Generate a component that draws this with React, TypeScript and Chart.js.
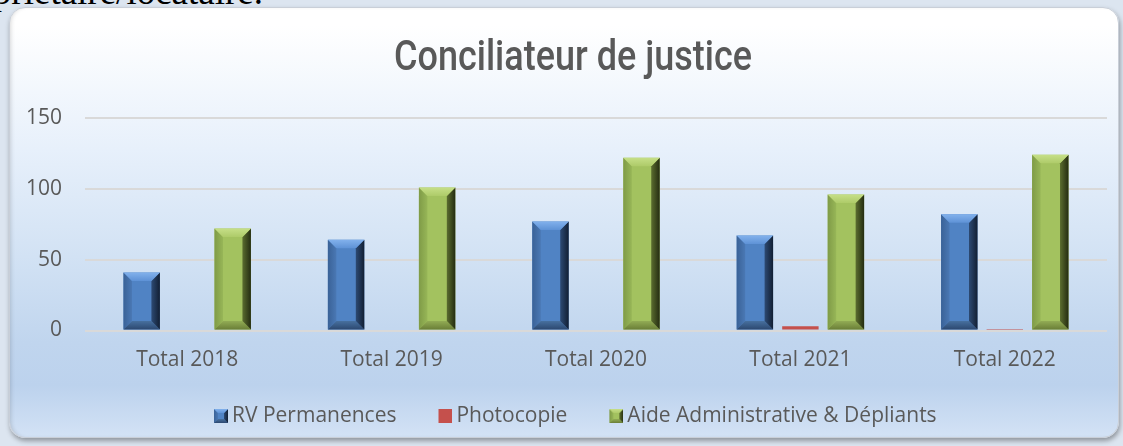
import React, { useEffect, useRef } from 'react';
import { Chart, registerables } from 'chart.js';

Chart.register(...registerables);

// ---- Data ----
const categories = ['Total 2018', 'Total 2019', 'Total 2020', 'Total 2021', 'Total 2022'];
const rvPermanences = [41, 64, 77, 67, 82];
const photocopie = [0, 0, 0, 3, 1];
const aideAdministrative = [72, 101, 122, 96, 124];
const yTicks = [0, 50, 100, 150];
const seriesNames = ['RV Permanences', 'Photocopie', 'Aide Administrative & Dépliants'];
const chartTitle = 'Conciliateur de justice';

// ---- Styles ----
const TEXT = '#595959';
const GRID = '#d9d9d9';
const RED = '#c5504c';
const BLUE = {
  body: '#5083c4',
  top: ['#82b1ec', '#5e92d6'],
  left: ['#3a6297', '#4a78b4'],
  right: ['#2d4a73', '#121f33'],
  bottom: ['#47709f', '#2c4870'],
};
const GREEN = {
  body: '#a3c25f',
  top: ['#c6df88', '#aecb69'],
  left: ['#7f9b47', '#97b657'],
  right: ['#5b6d2f', '#242c11'],
  bottom: ['#92ac55', '#6a7e37'],
};
const BEVELS: any[] = [BLUE, null, GREEN];
const BEVEL_SIZE = 8.5;
const TITLE_CENTER_X = 573;
const TITLE_WIDTH = 358;
const TITLE_FONT = { family: "Roboto, 'Open Sans', sans-serif", size: 42, weight: '500' };
const LEGEND_LEFT = 172;
const ICON = 14;
const ICON_SLOT = 40;

function drawBevel(ctx: CanvasRenderingContext2D, x0: number, x1: number, top: number, bot: number, b: number, st: any) {
  const lin = (ax: number, ay: number, bx: number, by: number, c: string[]) => {
    const g = ctx.createLinearGradient(ax, ay, bx, by);
    g.addColorStop(0, c[0]);
    g.addColorStop(1, c[1]);
    return g;
  };
  const poly = (pts: number[][], fill: any) => {
    ctx.beginPath();
    ctx.moveTo(pts[0][0], pts[0][1]);
    for (let i = 1; i < pts.length; i++) ctx.lineTo(pts[i][0], pts[i][1]);
    ctx.closePath();
    ctx.fillStyle = fill;
    ctx.fill();
  };
  poly([[x0, top], [x0 + b, top + b], [x0 + b, bot - b], [x0, bot]], lin(x0, 0, x0 + b, 0, st.left));
  poly([[x0, bot], [x0 + b, bot - b], [x1 - b, bot - b], [x1, bot]], lin(0, bot - b, 0, bot, st.bottom));
  poly([[x1, top], [x1, bot], [x1 - b, bot - b], [x1 - b, top + b]], lin(x1 - b, 0, x1, 0, st.right));
  poly([[x0, top], [x1, top], [x1 - b, top + b], [x0 + b, top + b]], lin(0, top, 0, top + b, st.top));
}

const bevelPlugin = {
  id: 'bevelBars',
  afterDatasetsDraw(chart: any) {
    const ctx = chart.ctx as CanvasRenderingContext2D;
    chart.data.datasets.forEach((_ds: any, i: number) => {
      const st = BEVELS[i];
      if (!st) return;
      const meta = chart.getDatasetMeta(i);
      meta.data.forEach((bar: any) => {
        const p = bar.getProps(['x', 'y', 'base', 'width'], true);
        const x0 = p.x - p.width / 2;
        const x1 = p.x + p.width / 2;
        const top = Math.min(p.y, p.base);
        const bot = Math.max(p.y, p.base);
        const h = bot - top;
        if (h <= 0) return;
        const b = Math.min(BEVEL_SIZE, p.width / 4, h / 2);
        ctx.save();
        drawBevel(ctx, x0, x1, top, bot, b, st);
        ctx.restore();
      });
    });
  },
};

// Positions the title (narrowed horizontally, like the condensed original) and the legend.
const shiftPlugin = {
  id: 'shiftBlocks',
  afterLayout(chart: any) {
    const t = chart.titleBlock;
    if (t) {
      const half = (t.right - t.left) / 2;
      t.left = TITLE_CENTER_X - half;
      t.right = TITLE_CENTER_X + half;
      if (!t._narrowed) {
        t._narrowed = true;
        const orig = t.draw.bind(t);
        t.draw = function () {
          const ctx = chart.ctx as CanvasRenderingContext2D;
          ctx.save();
          ctx.font = `${TITLE_FONT.weight} ${TITLE_FONT.size}px ${TITLE_FONT.family}`;
          const w = ctx.measureText(chartTitle).width || TITLE_WIDTH;
          const sx = TITLE_WIDTH / w;
          const cx = (t.left + t.right) / 2;
          ctx.translate(cx, 0);
          ctx.scale(sx, 1);
          ctx.translate(-cx, 0);
          orig();
          ctx.restore();
        };
      }
    }
    const l = chart.legend;
    if (l) l.left = LEGEND_LEFT;
  },
};

function makeIcon(body: string, st: any): HTMLCanvasElement {
  const c = document.createElement('canvas');
  c.width = ICON_SLOT + 13;
  c.height = ICON;
  const ctx = c.getContext('2d')!;
  const x0 = ICON_SLOT - 1;
  ctx.fillStyle = body;
  ctx.fillRect(x0, 0, ICON, ICON);
  if (st) drawBevel(ctx, x0, x0 + ICON, 0, ICON, 4, st);
  return c;
}

export default function App() {
  const ref = useRef<HTMLCanvasElement>(null);

  useEffect(() => {
    const canvas = ref.current!;
    const icons = [makeIcon(BLUE.body, BLUE), makeIcon(RED, null), makeIcon(GREEN.body, GREEN)];
    const tickFont = { family: "'Open Sans', sans-serif", size: 21 };
    const chart = new Chart(canvas, {
      type: 'bar',
      data: {
        labels: categories,
        datasets: [
          { label: seriesNames[0], data: rvPermanences, backgroundColor: BLUE.body, borderWidth: 0 },
          { label: seriesNames[1], data: photocopie, backgroundColor: RED, borderWidth: 0 },
          { label: seriesNames[2], data: aideAdministrative, backgroundColor: GREEN.body, borderWidth: 0 },
        ],
      },
      options: {
        responsive: false,
        animation: false,
        devicePixelRatio: 1,
        layout: { padding: { left: 0, right: 16, top: 0, bottom: 9.5 } },
        datasets: { bar: { categoryPercentage: 0.668, barPercentage: 0.8 } },
        scales: {
          x: {
            grid: { display: false, drawTicks: false },
            border: { display: false },
            ticks: { color: TEXT, font: tickFont, padding: 17.4, maxRotation: 0 },
            afterFit: (s: any) => { s.height = 65.5; },
          },
          y: {
            min: 0,
            max: 150,
            grid: { color: GRID, lineWidth: 2, drawTicks: false },
            border: { display: false },
            ticks: { color: TEXT, font: tickFont, padding: 23 },
            afterBuildTicks: (s: any) => { s.ticks = yTicks.map((v) => ({ value: v })); },
            afterFit: (s: any) => { s.width = 85; },
          },
        },
        plugins: {
          title: {
            display: true,
            text: chartTitle,
            color: TEXT,
            font: TITLE_FONT,
            padding: { top: 34.5, bottom: 33.1 },
          },
          legend: {
            position: 'bottom',
            align: 'start',
            labels: {
              usePointStyle: true,
              pointStyleWidth: ICON_SLOT,
              padding: 9.5,
              color: TEXT,
              font: tickFont,
              generateLabels: (ch: any) => {
                const items = (Chart.defaults.plugins.legend.labels as any).generateLabels(ch);
                items.forEach((it: any, i: number) => { it.pointStyle = icons[i]; });
                return items;
              },
            },
          },
          tooltip: { enabled: false },
        },
      } as any,
      plugins: [bevelPlugin, shiftPlugin],
    });
    return () => chart.destroy();
  }, []);

  return (
    <div style={{ position: 'fixed', left: 0, top: 0, width: 1123, height: 446, overflow: 'hidden', background: '#dce5f0' }}>
      <div
        style={{
          position: 'absolute',
          right: 860,
          top: -27,
          font: "37px/37px 'Liberation Serif', serif",
          color: '#000',
          whiteSpace: 'nowrap',
        }}
      >
        propriétaire/locataire.
      </div>
      <div
        style={{
          position: 'absolute',
          left: 9,
          top: 7,
          width: 1110,
          height: 431,
          boxSizing: 'border-box',
          borderRadius: 16,
          border: '1px solid #c9cfd8',
          background:
            'linear-gradient(to bottom, #ffffff 0%, #ffffff 4%, #e7f0fb 33%, #d2e2f4 58%, #c0d5ee 78%, #bcd2ed 88%, #d3e2f5 100%)',
          boxShadow: '1px 3px 5px rgba(0,0,0,0.35), inset 3px 0 4px -2px rgba(0,0,0,0.15)',
        }}
      />
      <canvas ref={ref} width={1123} height={446} style={{ position: 'absolute', left: 0, top: 0 }} />
    </div>
  );
}
